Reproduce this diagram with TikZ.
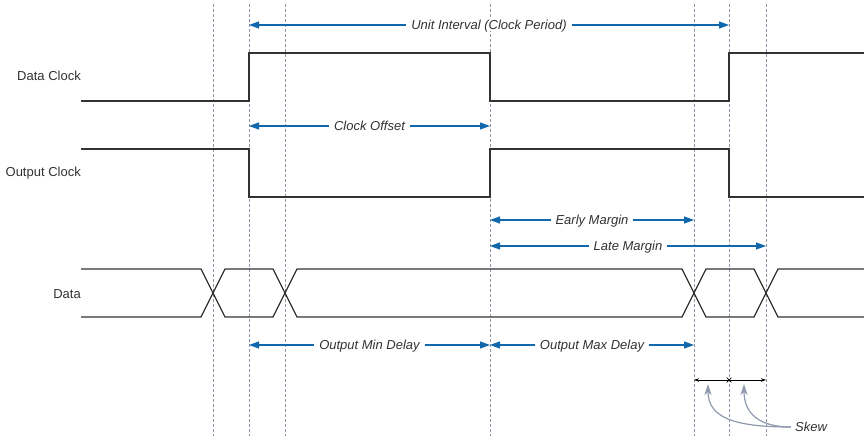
\documentclass[tikz,border=0pt]{standalone}
\usepackage{fontspec}
\setmainfont{Liberation Sans}
\usepackage{xcolor}
\usepackage{tikz}
\usetikzlibrary{arrows.meta, positioning, shapes.misc}

\definecolor{dimblue}{RGB}{16,103,172}
\definecolor{guidegray}{RGB}{140,148,165}
\definecolor{sigdark}{RGB}{50,50,50}
\definecolor{skewgray}{RGB}{145,153,175}

\begin{document}
\begin{tikzpicture}[
      x=1pt, y=-1pt,
      guide/.style={
         draw=guidegray,
         line width=0.7pt,
         dash pattern=on 3pt off 2pt},
      signal/.style={draw=sigdark, line width=1.3pt},
      dimarrow/.style={
         draw=dimblue,
         line width=1.1pt,
         {Triangle[length=10pt,width=7pt]}-{Triangle[length=10pt,width=7pt]}},
      dimlabel/.style={
         fill=white,
         inner xsep=5pt,
         inner ysep=1pt,
         text height=9.4pt,
         text depth=0pt,
         text=sigdark,
         font=\fontsize{13}{15}\selectfont\itshape},
      siglabel/.style={
         anchor=base east,
         inner sep=0pt,
         text=sigdark,
         font=\fontsize{13}{15}\selectfont},
      skewarrow/.style={
         draw=skewgray,
         line width=1.2pt,
         -{Stealth[length=11pt,width=7pt,inset=3pt]}}
      ]
      \useasboundingbox (0,0) rectangle (864,438);

      % dashed guides, one per edge / crossing
      \coordinate (ga) at (213,4);
      \coordinate (gb) at (249,4);
      \coordinate (gc) at (285,4);
      \coordinate (gd) at (490,4);
      \coordinate (ge) at (694,4);
      \coordinate (gf) at (729,4);
      \coordinate (gg) at (766,4);
      \foreach \g in {ga,gb,gc,gd,ge,gf,gg}
         \draw[guide] (\g) -- (\g |- 0,436);

      \node[siglabel] (dclk) at (81,81) {Data Clock};
      \node[siglabel] (oclk) at (81,177) {Output Clock};
      \node[siglabel] (data) at (81,298) {Data};

      % clocks
      \draw[signal] (81,101) -| (249,53) -| (490,101) -| (729,53) -- (864,53);
      \draw[signal] (81,149) -| (249,197) -| (490,149) -| (729,197) -- (864,197);

      % data eye
      \draw[signal] (81,269) -- (201,269) -- (225,317) -- (273,317) -- (297,269)
         -- (682,269) -- (706,317) -- (754,317) -- (778,269) -- (864,269);
      \draw[signal] (81,317) -- (201,317) -- (225,269) -- (273,269) -- (297,317)
         -- (682,317) -- (706,269) -- (754,269) -- (778,317) -- (864,317);

    \foreach \i/\j/\y/\txt in {% from guide/to guide/height/text
      gb/gf/25/Unit Interval (Clock Period),
      gb/gd/126/Clock Offset,
      gd/ge/220/Early Margin,
      gd/gg/246/Late Margin,
      gb/gd/345/Output Min Delay,
      gd/ge/345/Output Max Delay
      }
       \draw[dimarrow] (\i |- 0,\y) -- node[dimlabel] {\txt} (\j |- 0,\y);

      % skew
      \draw[line width=0.8pt, {Stealth[length=5pt,width=3.5pt]}-{Stealth[length=5pt,width=3.5pt]}]
         (ge |- 0,380) -- (gg |- 0,380);
      \node[cross out, draw, line width=0.7pt, minimum size=4pt, inner sep=0pt] (skewx) at (729,380) {};
      \node[dimlabel, fill=none, inner xsep=4pt] (skew) at (811,427) {Skew};
      \coordinate (s1) at (708,384);
      \coordinate (s2) at (744,384);
      \draw[skewarrow] (skew.west) .. controls (735,427) and (708,418) .. (s1);
      \draw[skewarrow] (skew.west) .. controls (760,427) and (744,414) .. (s2);

    \end{tikzpicture}
\end{document}
